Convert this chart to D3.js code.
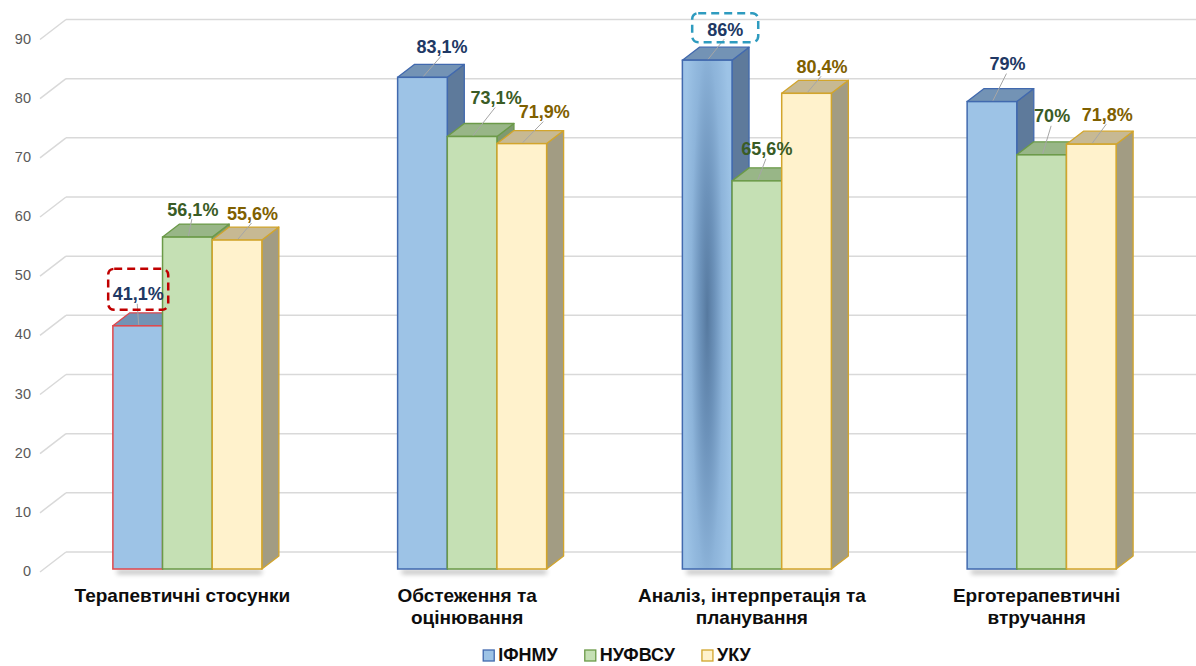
<!DOCTYPE html>
<html><head><meta charset="utf-8">
<script src="https://cdn.jsdelivr.net/npm/d3@7"></script>
<style>
html,body{margin:0;padding:0;background:#fff;}
svg{display:block;font-family:"Liberation Sans",Arial,sans-serif;}
</style></head>
<body>
<svg id="chart" width="1196" height="666"></svg>
<script>
// ---- data ----
const categories = ["Терапевтичні стосунки", "Обстеження та оцінювання", "Аналіз, інтерпретація та планування", "Ерготерапевтичні втручання"];
const categoryLines = [["Терапевтичні стосунки"], ["Обстеження та", "оцінювання"], ["Аналіз, інтерпретація та", "планування"], ["Ерготерапевтичні", "втручання"]];
const seriesNames = ["ІФНМУ", "НУФВСУ", "УКУ"];
const valuesIFNMU = [41.1, 83.1, 86, 79];
const valuesNUFVSU = [56.1, 73.1, 65.6, 70];
const valuesUKU = [55.6, 71.9, 80.4, 71.8];
const yTicks = [0, 10, 20, 30, 40, 50, 60, 70, 80, 90];
const highlights = [{cat: 0, series: 0, kind: "red"}, {cat: 2, series: 0, kind: "blue"}];

// ---- layout: manual data-label nudges (relative to bar top centre), per category x series ----
const labelNudge = [
  [[0.5, -32], [5.5, -28], [15.5, -27]],
  [[19.5, -31], [24, -39], [22.5, -32]],
  [[18, -31], [10, -32], [15.5, -27]],
  [[15.5, -38], [10.5, -39], [16, -30]]
];

// ---- styles ----
const seriesValues = [valuesIFNMU, valuesNUFVSU, valuesUKU];
const styles = [
  {front: "#9DC3E6", top: "#7393B5", side: "#5E7A9B", stroke: "#4169AE", label: "#203864"},
  {front: "#C5E0B4", top: "#98B687", side: "#7F9A70", stroke: "#6B9A48", label: "#3A5C25"},
  {front: "#FFF2CC", top: "#C7B993", side: "#A29C83", stroke: "#D2A52C", label: "#7F6000"}
];
const W = 1196, H = 666;
const svg = d3.select("#chart");
const defs = svg.append("defs");

// gradient for special bar
const rg = defs.append("radialGradient").attr("id", "blueGrad")
  .attr("cx", 0.5).attr("cy", 0.5).attr("r", 0.5)
  .attr("gradientTransform", "translate(0.5,0.5) scale(1,1.6) translate(-0.5,-0.5)");
[[0, "#56799F"], [0.3, "#6C92BA"], [0.65, "#8DB4DA"], [1, "#9DC3E6"]].forEach(([o, c]) =>
  rg.append("stop").attr("offset", o).attr("stop-color", c));
const sh = defs.append("filter").attr("id", "shadow").attr("x", -0.2).attr("y", -2).attr("width", 1.4).attr("height", 5);
sh.append("feGaussianBlur").attr("stdDeviation", 2.5);

// ---- scales ----
const y = d3.scaleLinear().domain([0, 90]).range([569, 36.5]);
const x = d3.scaleBand().domain(categories).range([45, 1184]).padding(0);
const groupW = 149;
const xs = d3.scaleBand().domain(seriesNames).range([0, groupW]).padding(0);
const depthX = 17, depthY = -13;      // bar depth
const wallX = 26, wallY = -20;        // floor/wall depth

// ---- gridlines ----
const grid = svg.append("g");
yTicks.forEach(t => {
  const yf = y(t) + 3, yb = yf + wallY;
  grid.append("line").attr("x1", 40).attr("y1", yf).attr("x2", 40 + wallX).attr("y2", yb)
    .attr("stroke", "#D9D9D9").attr("stroke-width", 1.5);
  grid.append("line").attr("x1", 40 + wallX).attr("y1", yb).attr("x2", W).attr("y2", yb)
    .attr("stroke", "#D9D9D9").attr("stroke-width", 1.5);
  grid.append("text").attr("x", 31).attr("y", yf - 1).attr("dy", "0.35em")
    .attr("text-anchor", "end").attr("font-size", 14.5).attr("fill", "#595959").text(t);
});

// ---- bars ----
const barsG = svg.append("g");
const labelsG = svg.append("g");
categories.forEach((cat, ci) => {
  const gx = x(cat) + (x.bandwidth() - groupW) / 2;
  // base shadow
  barsG.append("rect").attr("x", gx + 4).attr("y", y(0) + 1).attr("width", groupW - 4).attr("height", 4)
    .attr("fill", "#000").attr("opacity", 0.28).attr("filter", "url(#shadow)");
  seriesNames.forEach((s, si) => {
    const v = seriesValues[si][ci];
    const st = styles[si];
    const bx = gx + xs(s), bw = xs.bandwidth();
    const top = y(v), base = y(0);
    const special = highlights.find(h => h.cat === ci && h.series === si);
    const stroke = (special && special.kind === "red") ? "#E0474C" : st.stroke;
    // side
    barsG.append("path").attr("d", `M${bx + bw},${top} L${bx + bw + depthX},${top + depthY} L${bx + bw + depthX},${base + depthY} L${bx + bw},${base} Z`)
      .attr("fill", st.side).attr("stroke", stroke).attr("stroke-width", 1.3).attr("stroke-linejoin", "round");
    // top
    barsG.append("path").attr("d", `M${bx},${top} L${bx + depthX},${top + depthY} L${bx + bw + depthX},${top + depthY} L${bx + bw},${top} Z`)
      .attr("fill", st.top).attr("stroke", stroke).attr("stroke-width", 1.3).attr("stroke-linejoin", "round");
    // front
    const fill = (special && special.kind === "blue") ? "url(#blueGrad)" : st.front;
    barsG.append("rect").attr("x", bx).attr("y", top).attr("width", bw).attr("height", base - top)
      .attr("fill", fill).attr("stroke", stroke).attr("stroke-width", 1.5);

    // label
    const [ndx, ndy] = labelNudge[ci][si];
    const bcx = bx + bw / 2;
    const lx = bcx + ndx, ly = top + ndy;
    labelsG.append("line").attr("x1", lx - 1).attr("y1", ly + 10).attr("x2", bcx + 1).attr("y2", top - 1)
      .attr("stroke", "#A6A6A6").attr("stroke-width", 1);
    const txt = labelsG.append("text").attr("x", lx).attr("y", ly).attr("dy", "0.36em")
      .attr("text-anchor", "middle").attr("font-size", 18).attr("font-weight", "bold")
      .attr("fill", st.label).text(String(v).replace(".", ",") + "%");
    if (special) {
      const bb = txt.node().getBBox();
      const isRed = special.kind === "red";
      const bwBox = isRed ? bb.width + 9 : Math.max(bb.width + 30, 66);
      const bhBox = isRed ? 41 : 29;
      const cy = isRed ? ly - 4.5 : ly - 1.5;
      labelsG.append("rect").attr("x", lx - bwBox / 2).attr("y", cy - bhBox / 2)
        .attr("width", bwBox).attr("height", bhBox).attr("rx", 6)
        .attr("fill", "none").attr("stroke", isRed ? "#C00000" : "#2E9BBF")
        .attr("stroke-width", 2.5).attr("stroke-dasharray", "8,5");
    }
  });
  // category label
  const cx = x(cat) + x.bandwidth() / 2 - 5;
  const t = svg.append("text").attr("text-anchor", "middle").attr("font-size", 19)
    .attr("font-weight", "bold").attr("fill", "#0D0D0D");
  categoryLines[ci].forEach((ln, li) => t.append("tspan").attr("x", cx).attr("y", 602 + li * 22).text(ln));
});

// ---- legend ----
const leg = svg.append("g");
let lxPos = 0;
seriesNames.forEach((s, si) => {
  const g = leg.append("g").attr("transform", `translate(${lxPos},0)`);
  g.append("rect").attr("x", 0).attr("y", -11).attr("width", 11).attr("height", 11)
    .attr("fill", styles[si].front).attr("stroke", styles[si].stroke).attr("stroke-width", 1.3);
  const tt = g.append("text").attr("x", 15).attr("y", 0).attr("font-size", 18).attr("font-weight", "bold")
    .attr("fill", "#0D0D0D").text(s);
  lxPos += 15 + tt.node().getComputedTextLength() + 27;
});
const legW = lxPos - 27;
leg.attr("transform", `translate(${617 - legW / 2},661)`);
</script>
</body></html>
